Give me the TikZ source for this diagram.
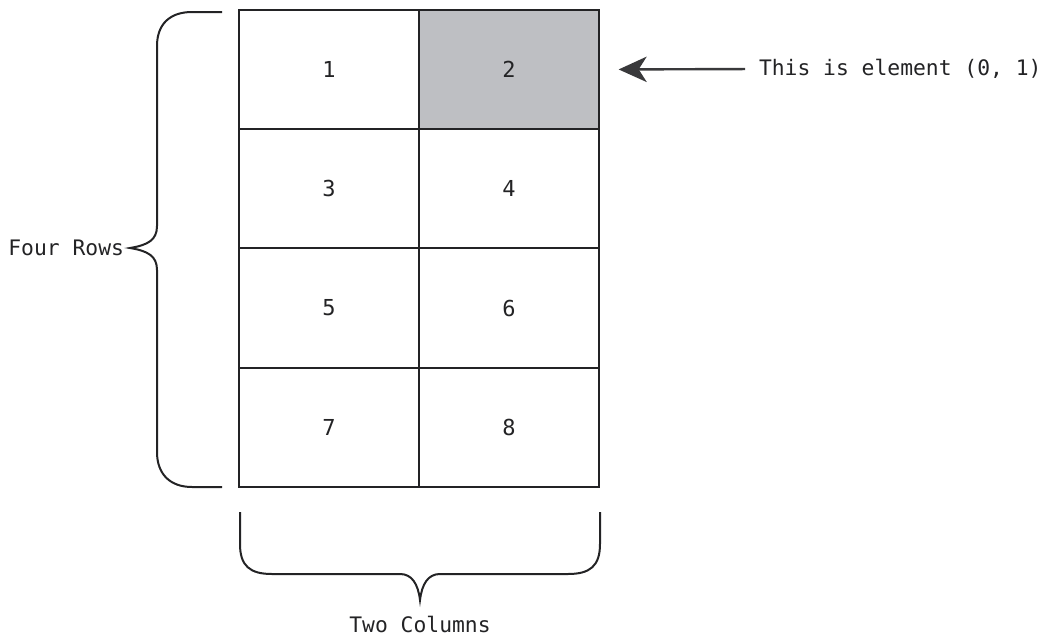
\documentclass[tikz,border=0pt]{standalone}
\usepackage{fontspec}
\setmonofont{DejaVu Sans Mono}
\usetikzlibrary{arrows.meta}

\definecolor{inkgrey}{RGB}{35,35,37}
\definecolor{cellgrey}{RGB}{190,191,195}

\tikzset{every picture/.style={line width=1.5pt}}
\tikzset{
  cell/.style={draw=inkgrey, minimum width=135pt, minimum height=89.5pt, inner sep=0pt,
    font=\ttfamily\fontsize{16.5}{19}\selectfont, text=inkgrey},
  lbltext/.style={inner sep=0.75pt, font=\ttfamily\fontsize{16}{19}\selectfont, text=inkgrey},
  brace/.style={draw=inkgrey, line width=1.5pt}
}

\begin{document}
\begin{tikzpicture}[x=0.75pt,y=0.75pt,yscale=-1,xscale=1]
  \useasboundingbox (0,0) rectangle (1050,636);

  % Cells
  \node [cell] (c1) at (329,69.5) {1};
  \node [cell, fill=cellgrey] (c2) at (509,69.5) {2};
  \node [cell] (c3) at (329,188.75) {3};
  \node [cell] (c4) at (509,188.75) {4};
  \node [cell] (c5) at (329,308) {5};
  \node [cell] (c6) at (509,308) {6};
  \node [cell] (c7) at (329,427.25) {7};
  \node [cell] (c8) at (509,427.25) {8};

  % Text Node
  \node [lbltext, anchor=west] (elem) at (757,69) {This is element (0, 1)};
  % Text Node
  \node [lbltext, anchor=east] (rows) at (126,248) {Four Rows};
  % Text Node
  \node [lbltext] (cols) at (420,624) {Two Columns};

  % Arrow
  \draw [color=inkgrey!90, line width=1.8pt, -{Stealth[length=21pt, width=19pt, inset=6pt]},
         shorten >=14pt, shorten <=9pt] (elem.west) -- (c2.east);

  % Left brace
  \draw [brace] (222,12) -- (192,12)
    .. controls (170,12) and (157,24) .. (157,46) -- (157,226)
    .. controls (157,240) and (148,245) .. (130,248)
    .. controls (148,251) and (157,256) .. (157,270) -- (157,452)
    .. controls (157,474) and (170,487) .. (192,487) -- (222,487);

  % Bottom brace
  \draw [brace] (240,512) -- (240,544)
    .. controls (240,566) and (250,574) .. (272,574) -- (400,574)
    .. controls (412,574) and (418,584) .. (420,600)
    .. controls (422,584) and (428,574) .. (440,574) -- (568,574)
    .. controls (590,574) and (600,566) .. (600,544) -- (600,512);
\end{tikzpicture}
\end{document}
